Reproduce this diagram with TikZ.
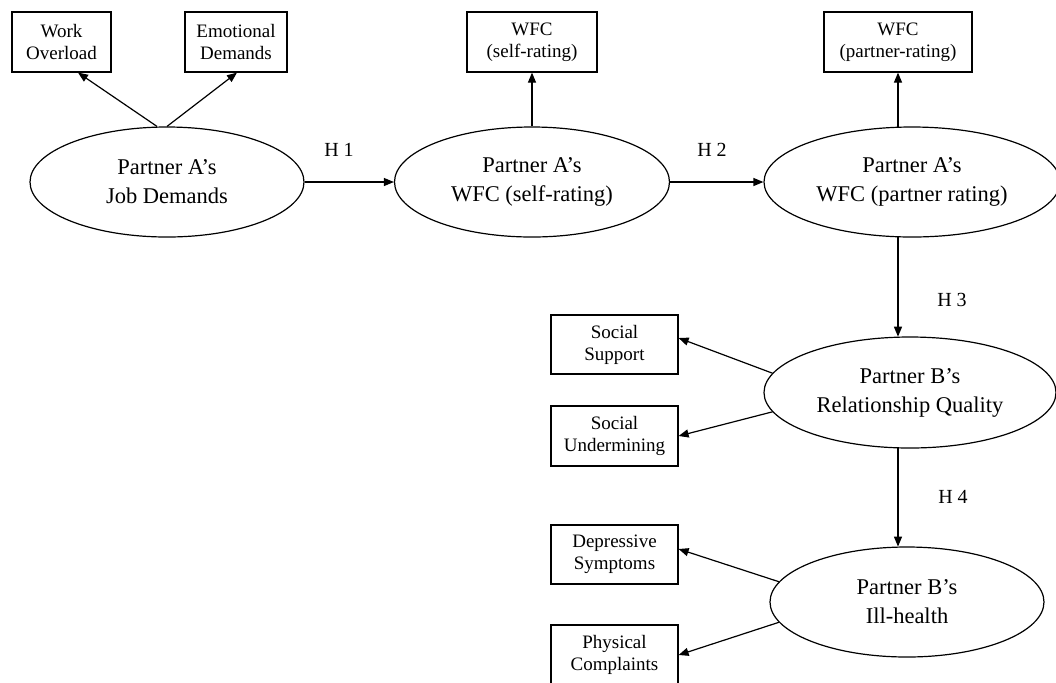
\documentclass[tikz,border=0pt]{standalone}
\usepackage{fontspec}
\setmainfont{Liberation Serif}
\usetikzlibrary{shapes.geometric,arrows.meta,calc}
\begin{document}
\begin{tikzpicture}[x=0.5pt,y=-0.5pt,
  latent/.style={ellipse,draw,line width=0.6pt,inner sep=0pt,align=center,font=\fontsize{11.25}{14.5}\selectfont},
  obs/.style={rectangle,draw,line width=0.6pt,inner sep=0pt,align=center,minimum height=30pt,font=\fontsize{9.5}{11}\selectfont},
  arr/.style={-{Triangle[length=5pt,width=4pt]},line width=0.6pt},
  hlab/.style={font=\fontsize{10}{12}\selectfont}]
\useasboundingbox (0,0) rectangle (1056,682);
% observed indicators
\node[obs,minimum width=49.5pt] (wo) at (61.5,42) {Work\\Overload};
\node[obs,minimum width=51pt] (ed) at (236,42) {Emotional\\Demands};
\node[obs,minimum width=65pt] (ws) at (532,42) {WFC\\(self-rating)};
\node[obs,minimum width=74pt] (wp) at (898,42) {WFC\\(partner-rating)};
\node[obs,minimum width=63.5pt,minimum height=29.5pt] (ss) at (614.5,344.5) {Social\\Support};
\node[obs,minimum width=63.5pt] (su) at (614.5,436) {Social\\Undermining};
\node[obs,minimum width=63.5pt,minimum height=29.5pt] (ds) at (614.5,554.5) {Depressive\\Symptoms};
\node[obs,minimum width=63.5pt] (pc) at (614.5,655) {Physical\\Complaints};
% latent variables
\node[latent,minimum width=137pt,minimum height=55pt] (jd) at (167,182) {Partner A’s\\Job Demands};
\node[latent,minimum width=137.5pt,minimum height=55pt] (wse) at (532,182) {Partner A’s\\WFC (self-rating)};
\node[latent,minimum width=148pt,minimum height=55pt] (wpe) at (912,182) {Partner A’s\\WFC (partner rating)};
\node[latent,minimum width=146pt,minimum height=55.5pt] (rq) at (910,392.5) {Partner B’s\\Relationship Quality};
\node[latent,minimum width=137pt,minimum height=55pt] (ih) at (907,602) {Partner B’s\\Ill-health};
% hypothesis labels
\node[hlab] (h1) at (339,150) {H 1};
\node[hlab] (h2) at (712,150) {H 2};
\node[hlab] (h3) at (952,300) {H 3};
\node[hlab] (h4) at (953,497) {H 4};
% measurement arrows
\draw[arr] ($(jd.north)+(-10,0)$) -- ($(wo.south)+(16.5,0)$);
\draw[arr] (jd.north) -- ($(ed.south)+(1,0)$);
\draw[arr] (wse.north) -- (ws.south);
\draw[arr] ($(wpe.north)+(-14,0.3)$) -- (wp.south);
\draw[arr] (rq.172.5) -- ($(ss.east)+(0,-6.5)$);
\draw[arr] (rq.188) -- (su.east);
\draw[arr] (ih.171) -- ($(ds.east)+(0,-5.5)$);
\draw[arr] (ih.189) -- (pc.east);
% structural paths
\draw[arr] (jd.east) -- (wse.west);
\draw[arr] (wse.east) -- (wpe.west);
\draw[arr] ($(wpe.south)+(-14,-0.3)$) -- ($(rq.north)+(-12,0.3)$);
\draw[arr] ($(rq.south)+(-12,-0.3)$) -- ($(ih.north)+(-9,0.2)$);
\end{tikzpicture}
\end{document}
